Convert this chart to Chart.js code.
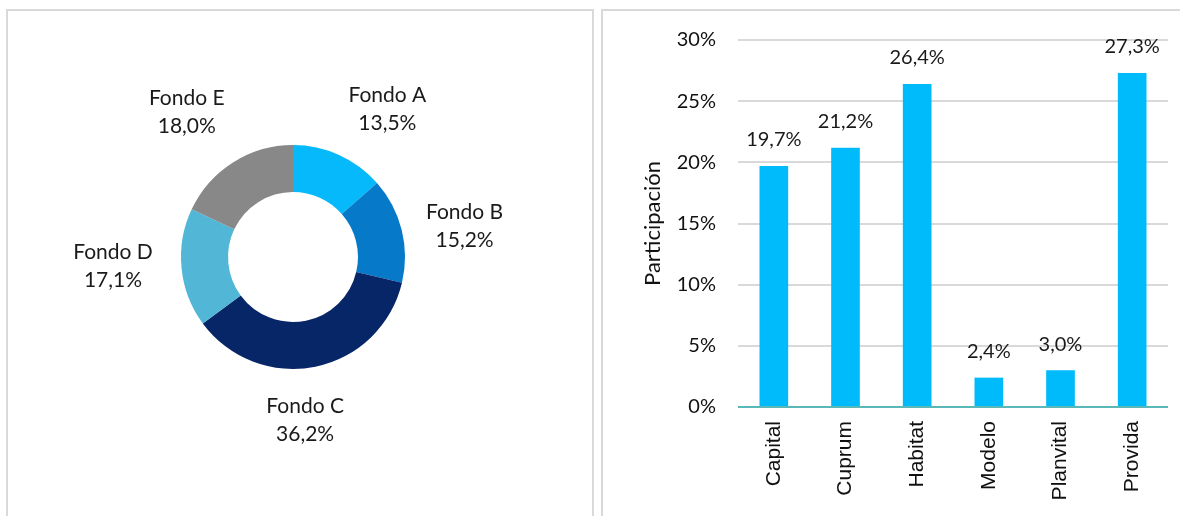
<!DOCTYPE html>
<html>
<head>
<meta charset="utf-8">
<script src="https://cdn.jsdelivr.net/npm/chart.js@4/dist/chart.umd.min.js"></script>
<style>
  body { margin: 0; background: #fff; }
  #wrap { position: relative; width: 1180px; height: 516px; overflow: hidden; }
  .panel { position: absolute; border: 2px solid #d9d9d9; box-sizing: border-box; }
  #left { left: 6px; top: 9px; width: 588px; height: 520px; }
  #right { left: 601px; top: 9px; width: 600px; height: 520px; }
  canvas { position: absolute; }
  #pie { left: 10px; top: 12px; }
  #bars { left: 604px; top: 6px; }
</style>
</head>
<body>
<div id="wrap">
  <div class="panel" id="left"></div>
  <div class="panel" id="right"></div>
  <canvas id="pie" width="580" height="504"></canvas>
  <canvas id="bars" width="576" height="510"></canvas>
</div>
<script>
const fondos = ['Fondo A', 'Fondo B', 'Fondo C', 'Fondo D', 'Fondo E'];
const fondoShare = [13.5, 15.2, 36.2, 17.1, 18.0];
const fondoColors = ['#05b9fa', '#0679c9', '#062668', '#52b7d6', '#888888'];

const afps = ['Capital', 'Cuprum', 'Habitat', 'Modelo', 'Planvital', 'Provida'];
const afpShare = [19.7, 21.2, 26.4, 2.4, 3.0, 27.3];
const yTicks = [0, 5, 10, 15, 20, 25, 30];

const txtFont = 'Lato, "Open Sans", sans-serif';
const fmt = v => v.toFixed(1).replace('.', ',') + '%';

Chart.defaults.animation = false;
Chart.defaults.responsive = false;

// labels outside the doughnut, along each slice's middle angle,
// nudged a little the way the original spreadsheet placed them
const pieNudge = [[22, 12], [1, 12], [-23, -9], [-5, -8], [-12, 4]];
const pieLabels = {
  id: 'pieLabels',
  afterDraw(chart) {
    const c = chart.ctx;
    c.save();
    c.font = '21px ' + txtFont;
    c.fillStyle = '#1a1a1a';
    c.textAlign = 'center';
    c.textBaseline = 'middle';
    chart.getDatasetMeta(0).data.forEach((arc, i) => {
      const a = (arc.startAngle + arc.endAngle) / 2;
      const r = arc.outerRadius * 1.57;
      const x = arc.x + Math.cos(a) * r + pieNudge[i][0];
      const y = arc.y + Math.sin(a) * r + pieNudge[i][1];
      c.fillText(fondos[i], x, y - 14);
      c.fillText(fmt(fondoShare[i]), x, y + 14);
    });
    c.restore();
  }
};

new Chart(document.getElementById('pie'), {
  type: 'doughnut',
  data: {
    labels: fondos,
    datasets: [{
      data: fondoShare,
      backgroundColor: fondoColors,
      borderWidth: 0
    }]
  },
  options: {
    cutout: '58%',
    layout: { padding: { left: 171, right: 185, top: 133, bottom: 147 } },
    plugins: { legend: { display: false }, tooltip: { enabled: false } }
  },
  plugins: [pieLabels]
});

const barLabels = {
  id: 'barLabels',
  afterDatasetsDraw(chart) {
    const c = chart.ctx;
    c.save();
    c.font = '20px ' + txtFont;
    c.fillStyle = '#1a1a1a';
    c.textAlign = 'center';
    c.textBaseline = 'bottom';
    chart.getDatasetMeta(0).data.forEach((bar, i) => {
      c.fillText(fmt(afpShare[i]), bar.x, bar.y - 16);
    });
    c.restore();
  }
};

new Chart(document.getElementById('bars'), {
  type: 'bar',
  data: {
    labels: afps,
    datasets: [{
      data: afpShare,
      backgroundColor: '#00bbfb',
      categoryPercentage: 1,
      barPercentage: 0.4
    }]
  },
  options: {
    layout: { padding: { top: 0, right: 12 } },
    plugins: { legend: { display: false }, tooltip: { enabled: false } },
    scales: {
      x: {
        grid: { display: false },
        border: { display: false },
        ticks: {
          minRotation: 90, maxRotation: 90, padding: 6,
          color: '#111', font: { family: '"Liberation Sans", Arial, sans-serif', size: 21 }
        },
        afterFit: s => { s.height = 109; }
      },
      y: {
        min: 0, max: 30,
        afterBuildTicks: s => { s.ticks = yTicks.map(v => ({ value: v })); },
        border: { display: false },
        grid: {
          drawTicks: false,
          lineWidth: 2,
          color: ctx => ctx.tick && ctx.tick.value === 0 ? '#5ab8b8' : '#d9d9d9'
        },
        ticks: {
          padding: 22,
          color: '#111',
          font: { family: txtFont, size: 20 },
          callback: v => v + '%'
        },
        title: {
          display: true, text: 'Participación', color: '#111',
          font: { family: txtFont, size: 22 },
          padding: { top: 36, bottom: 0 }
        },
        afterFit: s => { s.width = 134; }
      }
    }
  },
  plugins: [barLabels]
});
</script>
</body>
</html>
